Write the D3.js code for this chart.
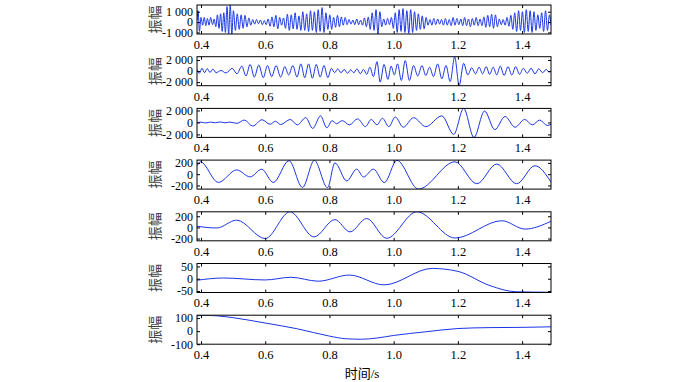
<!DOCTYPE html>
<html>
<head>
<meta charset="utf-8">
<script src="https://cdn.jsdelivr.net/npm/d3@7"></script>
<style>
body { margin: 0; background: #fff; }
text { font-family: "Liberation Serif", "Times New Roman", serif; }
</style>
</head>
<body>
<script>
var width = 700;
var height = 382;
var left = 197;
var right = 551;
var panelTop = 5;
var panelStep = 51.7;
var panelH = 29;

// x axis (time, s)
var xTicks = [0.4, 0.6, 0.8, 1.0, 1.2, 1.4];
var xDomain = [0.3875, 1.49];

// IMF 1 .. IMF 7, extrema / key points [t, amplitude]
var imf1 = [
  [0.388,200],[0.391,1100],[0.395,-900],[0.400,450],[0.405,-300],[0.410,450],[0.415,-350],[0.420,350],
  [0.425,-300],[0.430,450],[0.436,-250],[0.441,300],[0.446,-450],[0.451,700],[0.456,-600],[0.461,800],
  [0.466,-900],[0.471,900],[0.476,-1000],[0.481,1500],[0.486,-1150],[0.491,1650],[0.496,-1150],[0.501,1100],
  [0.507,-800],[0.513,800],[0.519,-700],[0.525,700],[0.531,-600],[0.537,650],[0.543,-450],[0.549,400],
  [0.555,-300],[0.561,250],[0.567,-200],[0.573,250],[0.579,-150],[0.585,200],[0.591,-250],[0.597,150],
  [0.603,-250],[0.609,300],[0.615,-400],[0.621,500],[0.627,-450],[0.633,650],[0.639,-650],[0.645,450],
  [0.651,-300],[0.657,400],[0.663,-600],[0.669,750],[0.675,-800],[0.681,700],[0.687,-650],[0.693,900],
  [0.699,-700],[0.705,600],[0.711,-800],[0.717,1000],[0.723,-800],[0.729,800],[0.735,-900],[0.741,1100],
  [0.747,-800],[0.753,1000],[0.759,-1000],[0.765,1200],[0.771,-900],[0.777,1400],[0.783,-1000],[0.789,900],
  [0.795,-700],[0.801,700],[0.807,-700],[0.813,450],[0.819,-500],[0.825,650],[0.831,-450],[0.837,500],
  [0.843,-300],[0.849,450],[0.855,-250],[0.861,250],[0.867,-200],[0.873,200],[0.879,-250],[0.885,300],
  [0.891,-250],[0.897,200],[0.903,-300],[0.909,400],[0.915,-450],[0.921,500],[0.927,-700],[0.933,900],
  [0.939,-800],[0.945,1200],[0.951,-1150],[0.957,1000],[0.963,-450],[0.969,300],[0.975,-300],[0.981,350],
  [0.987,-250],[0.993,450],[0.999,-600],[1.005,900],[1.011,-1000],[1.017,1200],[1.023,-900],[1.029,1300],
  [1.035,-1000],[1.041,1100],[1.047,-1100],[1.053,1200],[1.059,-1000],[1.065,1000],[1.071,-800],[1.077,800],
  [1.083,-700],[1.089,600],[1.095,-650],[1.101,450],[1.107,-300],[1.113,250],[1.119,-300],[1.125,350],
  [1.131,-250],[1.137,300],[1.143,-200],[1.149,250],[1.155,-300],[1.161,350],[1.167,-300],[1.173,250],
  [1.179,-350],[1.185,450],[1.191,-300],[1.197,350],[1.203,-250],[1.209,300],[1.215,-350],[1.221,450],
  [1.227,-350],[1.233,300],[1.239,-450],[1.245,350],[1.251,-300],[1.257,450],[1.263,-350],[1.269,300],
  [1.275,-350],[1.281,500],[1.287,-500],[1.293,650],[1.299,-450],[1.305,750],[1.311,-600],[1.317,700],
  [1.323,-450],[1.329,300],[1.335,-250],[1.341,250],[1.347,-300],[1.353,450],[1.359,-400],[1.365,650],
  [1.371,-700],[1.377,900],[1.383,-900],[1.389,1100],[1.395,-800],[1.401,1000],[1.407,-1000],[1.413,1200],
  [1.419,-900],[1.425,1100],[1.431,-1000],[1.437,1000],[1.443,-800],[1.449,700],[1.455,-600],[1.461,900],
  [1.467,-900],[1.473,1100],[1.479,-800],[1.485,700],[1.490,-300]
];
var imf2 = [
  [0.388,300],[0.395,-400],[0.403,500],[0.411,-300],[0.419,450],[0.428,-250],[0.437,350],[0.447,-300],
  [0.462,100],[0.478,-350],[0.497,500],[0.512,-500],[0.527,900],[0.540,-900],[0.553,1200],[0.566,-1100],
  [0.580,1100],[0.594,-1200],[0.607,1000],[0.620,-1000],[0.634,1000],[0.648,-1100],[0.661,800],[0.673,-700],
  [0.686,1000],[0.699,-1100],[0.711,1300],[0.723,-1200],[0.735,1300],[0.747,-1300],[0.759,1200],[0.771,-1100],
  [0.783,1000],[0.795,-1200],[0.806,500],[0.816,-300],[0.826,400],[0.836,-300],[0.846,300],[0.856,-400],
  [0.866,200],[0.876,-300],[0.886,400],[0.896,-500],[0.906,300],[0.916,-600],[0.926,700],[0.937,-1000],
  [0.948,1700],[0.958,-2000],[0.970,1200],[0.982,-1500],[0.992,900],[1.002,-700],[1.012,1300],[1.024,-1700],
  [1.036,1900],[1.049,-1700],[1.062,1000],[1.075,-900],[1.088,1000],[1.100,-800],[1.112,700],[1.124,-1000],
  [1.137,1300],[1.150,-1400],[1.163,1000],[1.176,-1900],[1.190,2550],[1.204,-2600],[1.218,1400],[1.231,-700],
  [1.243,600],[1.255,-500],[1.266,700],[1.277,-500],[1.288,800],[1.299,-600],[1.310,700],[1.321,-700],
  [1.332,900],[1.344,-800],[1.356,800],[1.368,-700],[1.380,800],[1.392,-600],[1.404,500],[1.416,-400],
  [1.428,500],[1.440,-500],[1.452,400],[1.464,-300],[1.475,300],[1.484,-200],[1.490,100]
];
var imf3 = [
  [0.388,-50],[0.400,50],[0.415,-80],[0.430,60],[0.445,-50],[0.460,80],[0.475,-60],[0.490,60],
  [0.512,-150],[0.535,400],[0.561,-600],[0.590,450],[0.615,-300],[0.632,200],[0.648,-350],[0.678,500],
  [0.700,-400],[0.726,800],[0.748,-1000],[0.772,1100],[0.792,-900],[0.808,300],[0.822,-200],[0.840,300],
  [0.862,-400],[0.888,600],[0.912,-700],[0.930,500],[0.948,-400],[0.965,700],[0.985,-700],[1.005,900],
  [1.030,-800],[1.062,800],[1.100,-700],[1.150,1100],[1.187,-2000],[1.218,2350],[1.250,-2500],[1.283,1900],
  [1.315,-1200],[1.347,1000],[1.378,-800],[1.408,500],[1.432,-400],[1.455,400],[1.478,-500],[1.490,-300]
];
var imf4 = [
  [0.388,150],[0.398,220],[0.454,-147],[0.511,76],[0.553,-48],[0.589,88],[0.625,-147],[0.674,240],
  [0.716,-235],[0.753,245],[0.794,-240],[0.817,200],[0.854,-120],[0.885,90],[0.906,-50],[0.937,90],
  [0.971,-150],[1.010,245],[1.077,-265],[1.191,220],[1.259,-170],[1.321,180],[1.383,-170],[1.440,150],
  [1.490,-140]
];
var imf5 = [
  [0.388,20],[0.449,-10],[0.511,130],[0.600,-200],[0.677,280],[0.752,-170],[0.817,140],[0.864,-80],
  [0.916,160],[0.978,-195],[1.072,280],[1.191,-190],[1.337,120],[1.409,-30],[1.490,110]
];
var imf6 = [
  [0.388,-6],[0.470,3],[0.600,-5],[0.680,6],[0.765,-10],[0.862,15],[0.970,-25],[1.120,42],
  [1.200,30],[1.300,-28],[1.380,-53],[1.490,-55]
];
var imf7 = [
  [0.388,118],[0.420,120],[0.450,117],[0.500,103],[0.600,62],[0.700,18],[0.800,-38],[0.850,-58],
  [0.900,-62],[0.950,-52],[1.000,-33],[1.100,-5],[1.200,20],[1.300,27],[1.400,29],[1.490,33]
];

// y ticks and limits of each panel
var yTicks1 = [-1000, 0, 1000];
var yTicks2 = [-2000, 0, 2000];
var yTicks3 = [-2000, 0, 2000];
var yTicks4 = [-200, 0, 200];
var yTicks5 = [-200, 0, 200];
var yTicks6 = [-50, 0, 50];
var yTicks7 = [-100, 0, 100];
var yLim1 = [-1150, 1650];
var yLim2 = [-2650, 2600];
var yLim3 = [-2500, 2350];
var yLim4 = [-265, 250];
var yLim5 = [-240, 280];
var yLim6 = [-56, 62];
var yLim7 = [-100, 122];

var panels = [
  {data: imf1, ticks: yTicks1, lim: yLim1},
  {data: imf2, ticks: yTicks2, lim: yLim2},
  {data: imf3, ticks: yTicks3, lim: yLim3},
  {data: imf4, ticks: yTicks4, lim: yLim4},
  {data: imf5, ticks: yTicks5, lim: yLim5},
  {data: imf6, ticks: yTicks6, lim: yLim6},
  {data: imf7, ticks: yTicks7, lim: yLim7}
];

var locale = d3.formatLocale({decimal: ".", thousands: " ", grouping: [3], currency: ["", ""], minus: "-"});
var yFormat = locale.format(",");

var svg = d3.select("body")
  .append("svg")
  .attr("width", width)
  .attr("height", height);

var xScale = d3.scaleLinear().domain(xDomain).range([left, right]);

panels.forEach(function(p, i) {
  var top = panelTop + i * panelStep;
  var yScale = d3.scaleLinear().domain(p.lim).range([top + panelH, top]);

  svg.append("clipPath")
    .attr("id", "clip" + i)
    .append("rect")
    .attr("x", left).attr("y", top)
    .attr("width", right - left).attr("height", panelH);

  var line = d3.line()
    .x(function(d) { return xScale(d[0]); })
    .y(function(d) { return yScale(d[1]); })
    .curve(d3.curveMonotoneX);

  svg.append("path")
    .datum(p.data)
    .attr("clip-path", "url(#clip" + i + ")")
    .attr("d", line)
    .attr("fill", "none")
    .attr("stroke", "#1a35e6")
    .attr("stroke-width", 1);

  // inner ticks on all four sides
  var gx = svg.append("g")
    .attr("transform", "translate(0," + (top + panelH) + ")")
    .call(d3.axisBottom(xScale).tickValues(xTicks).tickSize(-3).tickPadding(6)
      .tickFormat(d3.format(".1f")));
  svg.append("g")
    .attr("transform", "translate(0," + top + ")")
    .call(d3.axisTop(xScale).tickValues(xTicks).tickSize(-3).tickFormat(""));
  var gy = svg.append("g")
    .attr("transform", "translate(" + left + ",0)")
    .call(d3.axisLeft(yScale).tickValues(p.ticks).tickSize(-3).tickPadding(4)
      .tickFormat(yFormat));
  svg.append("g")
    .attr("transform", "translate(" + right + ",0)")
    .call(d3.axisRight(yScale).tickValues(p.ticks).tickSize(-3).tickFormat(""));

  svg.selectAll(".domain").remove();
  svg.selectAll(".tick line").attr("stroke", "#000");
  gx.selectAll("text").attr("font-size", "12.5px").attr("fill", "#000")
    .style("font-family", "'Liberation Serif', serif");
  gy.selectAll("text").attr("font-size", "12px").attr("fill", "#000")
    .style("font-family", "'Liberation Serif', serif");

  svg.append("rect")
    .attr("x", left).attr("y", top)
    .attr("width", right - left).attr("height", panelH)
    .attr("fill", "none")
    .attr("stroke", "#000")
    .attr("stroke-width", 1);

  svg.append("text")
    .attr("transform", "translate(155," + (top + panelH / 2) + ") rotate(-90)")
    .attr("text-anchor", "middle")
    .attr("dy", "0.35em")
    .style("font-family", "'Noto Sans CJK SC', sans-serif")
    .attr("font-size", "14px")
    .attr("fill", "#444")
    .text("振幅");
});

svg.append("text")
  .attr("x", 362)
  .attr("y", 378)
  .attr("text-anchor", "middle")
  .style("font-family", "'Liberation Serif', 'Noto Sans CJK SC', serif")
  .attr("font-size", "13px")
  .attr("fill", "#000")
  .text("时间/s");
</script>
</body>
</html>
